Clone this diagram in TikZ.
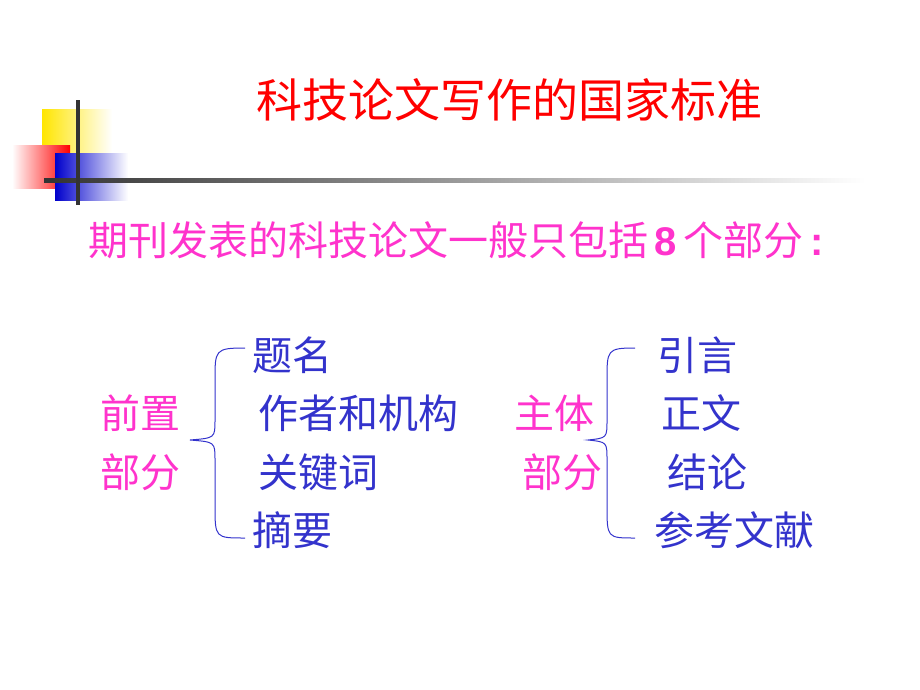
\documentclass[tikz,border=0pt]{standalone}
\usepackage{fontspec}
\setmainfont{Liberation Sans}
\newfontfamily\cjk{Noto Sans CJK SC}
\definecolor{tb}{RGB}{51,51,204}
\definecolor{tp}{RGB}{255,51,204}
\begin{document}
\begin{tikzpicture}[x=1pt,y=-1pt,
  blu/.style={text=tb,font=\cjk\fontsize{40}{42}\selectfont,anchor=west,inner sep=0},
  pnk/.style={text=tp,font=\cjk\fontsize{40}{42}\selectfont,anchor=west,inner sep=0},
  br/.style={draw=tb,line width=1pt}]
\useasboundingbox (0,0) rectangle (920,690);
\shade[left color=yellow!80!orange,right color=white] (42,110) rectangle (112,153);
\shade[shading angle=135,left color=white,right color=red] (12,145) rectangle (70,188);
\shade[left color=blue!80!black,right color=white] (55,153) rectangle (128,200);
\shade[left color=black!80,right color=white] (44,178) rectangle (865,182);
\fill[black!80] (76,100) rectangle (80,205);
\node[text=red,font=\cjk\fontsize{46}{48}\selectfont,anchor=west,inner sep=0] (t) at (256,100) {科技论文写作的国家标准};
\node[pnk,font=\cjk\fontsize{40}{42}\selectfont] (s) at (88,240) {期刊发表的科技论文一般只包括{\rmfamily\bfseries\,8\,}个部分{\rmfamily\bfseries\,:}};
\node[pnk] (q1) at (100,413) {前置};
\node[pnk] (q2) at (100,472) {部分};
\node[blu] (a1) at (252,355) {题名};
\node[blu] (a2) at (258,413) {作者和机构};
\node[blu] (a3) at (258,472) {关键词};
\node[blu] (a4) at (252,530) {摘要};
\node[pnk] (z1) at (514,413) {主体};
\node[pnk] (z2) at (522,472) {部分};
\node[blu] (b1) at (657,355) {引言};
\node[blu] (b2) at (661,413) {正文};
\node[blu] (b3) at (667,472) {结论};
\node[blu] (b4) at (654,530) {参考文献};
\draw[br] (245,348) .. controls (215,348) and (215,350) .. (215,380) -- (215,420) .. controls (215,438) .. (190,440) .. controls (215,442) .. (215,460) -- (215,505) .. controls (215,538) .. (245,538);
\draw[br] (635,348) .. controls (607,348) and (607,350) .. (607,380) -- (607,420) .. controls (607,438) .. (588,440) .. controls (607,442) .. (607,460) -- (607,505) .. controls (607,538) .. (635,538);
\end{tikzpicture}
\end{document}
